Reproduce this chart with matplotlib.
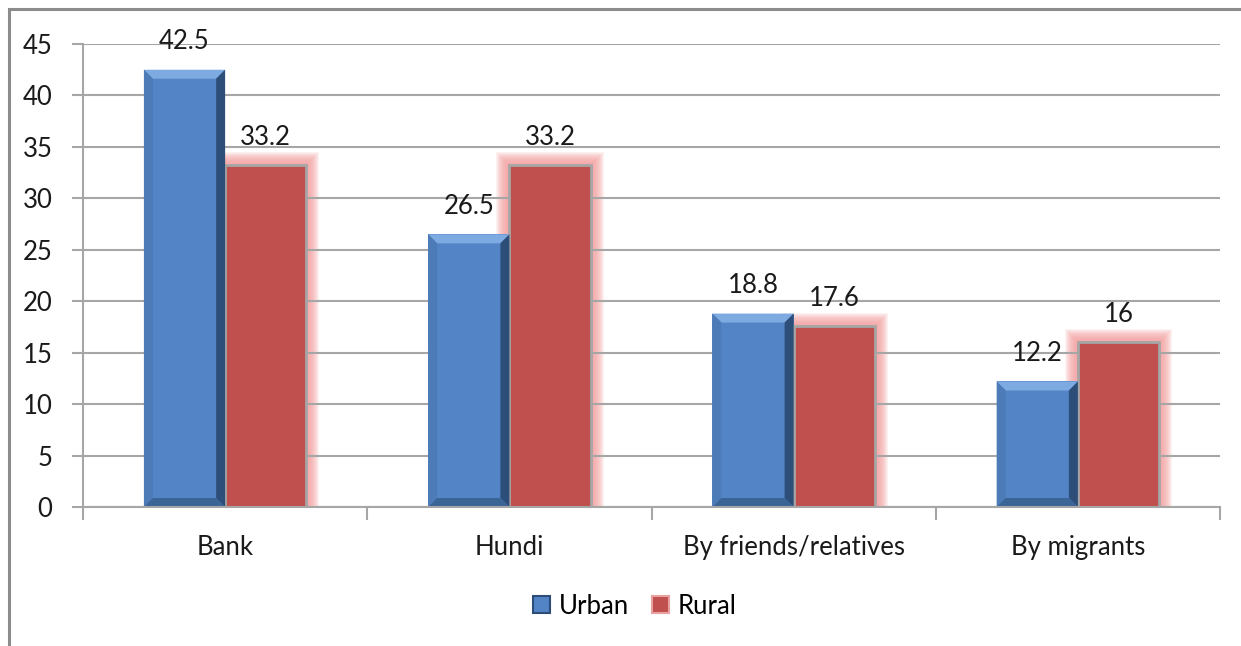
import matplotlib
matplotlib.use('Agg')
import matplotlib.pyplot as plt
from matplotlib.patches import Rectangle, Polygon, Patch
import numpy as np

plt.rcParams['font.family'] = ['Lato', 'DejaVu Sans']

categories = ['Bank', 'Hundi', 'By friends/relatives', 'By migrants']
urban = [42.5, 26.5, 18.8, 12.2]
rural = [33.2, 33.2, 17.6, 16]
urban_labels = ['42.5', '26.5', '18.8', '12.2']
rural_labels = ['33.2', '33.2', '17.6', '16']

blue = '#5384C6'
red = '#C0504D'
grey = '#A6A6A6'
fs = 18.5

W, H = 1241, 646
fig = plt.figure(figsize=(W / 100, H / 100), dpi=100)
ax = fig.add_axes([83 / W, 1 - 507 / H, (1220 - 83) / W, (507 - 44) / H])

# outer chart frame (bottom/right run off the picture)
fig.patches.append(Rectangle((8.5 / W, -0.05), 1.2, 1 - 9.5 / H + 0.05,
                             transform=fig.transFigure, fill=False,
                             edgecolor='#8C8C8C', linewidth=2.2))

x = np.arange(len(categories))
bw = 1 / 3.5
ax.set_xlim(-0.5, len(categories) - 0.5)
ax.set_ylim(0, 45)

# data units per pixel
px_x = (len(categories)) / (1220 - 83)
px_y = 45 / (507 - 44)

ub = ax.bar(x - bw / 2, urban, bw, color=blue, edgecolor='none', zorder=3)
rb = ax.bar(x + bw / 2, rural, bw, color=red, edgecolor=grey, linewidth=2, zorder=3)

# pink glow behind the rural bars
for b in rb:
    x0, w, h = b.get_x(), b.get_width(), b.get_height()
    for k in range(1, 14):
        ax.add_patch(Rectangle((x0 - k * px_x, 0), w + 2 * k * px_x, h + k * px_y,
                               facecolor='#F59C9C', edgecolor='none',
                               alpha=0.13, zorder=0.4))

# bevel on the urban bars
bx, by = 9 * px_x, 9 * px_y
for b in ub:
    x0, w, h = b.get_x(), b.get_width(), b.get_height()
    x1 = x0 + w
    faces = [
        ([(x0, h), (x1, h), (x1 - bx, h - by), (x0 + bx, h - by)], '#7EAAE2'),
        ([(x0, 0), (x0, h), (x0 + bx, h - by), (x0 + bx, by)], '#4C7BB8'),
        ([(x1, h), (x1, 0), (x1 - bx, by), (x1 - bx, h - by)], '#2D4E78'),
        ([(x0, 0), (x1, 0), (x1 - bx, by), (x0 + bx, by)], '#3B6497'),
    ]
    for pts, c in faces:
        ax.add_patch(Polygon(pts, closed=True, facecolor=c, edgecolor='none', zorder=3.5))

for bars, labels in [(ub, urban_labels), (rb, rural_labels)]:
    for b, lab in zip(bars, labels):
        ax.annotate(lab, (b.get_x() + b.get_width() / 2, b.get_height()),
                    xytext=(0, 11), textcoords='offset points', ha='center', va='bottom',
                    fontsize=fs, color='#1a1a1a')

ax.set_yticks(np.arange(0, 46, 5))
ax.set_xticks(x)
ax.set_xticklabels(categories)
ax.set_xticks(np.arange(-0.5, len(categories), 1), minor=True)
ax.tick_params(axis='x', which='major', length=0, pad=20, labelsize=fs, labelcolor='#1a1a1a')
ax.tick_params(axis='x', which='minor', length=9, width=1.5, color=grey, direction='out')
ax.tick_params(axis='y', length=8, width=1.5, color=grey, pad=14, labelsize=fs, labelcolor='#1a1a1a')

ax.yaxis.grid(True, color=grey, linewidth=1.5)
ax.set_axisbelow(True)
for s in ['top', 'right']:
    ax.spines[s].set_visible(False)
for s in ['left', 'bottom']:
    ax.spines[s].set_color(grey)
    ax.spines[s].set_linewidth(1.5)
ax.spines['bottom'].set_zorder(4)

handles = [Patch(facecolor=blue, edgecolor='#2C4D77', linewidth=1.5, label='Urban'),
           Patch(facecolor=red, edgecolor='#E8A0A0', linewidth=1.5, label='Rural')]
fig.legend(handles=handles, loc='center', bbox_to_anchor=(635 / W, 1 - 606 / H), ncol=2,
           frameon=False, fontsize=fs, handlelength=0.65, handleheight=0.65,
           handletextpad=0.35, columnspacing=0.9)

fig.savefig('out.png', dpi=100)
